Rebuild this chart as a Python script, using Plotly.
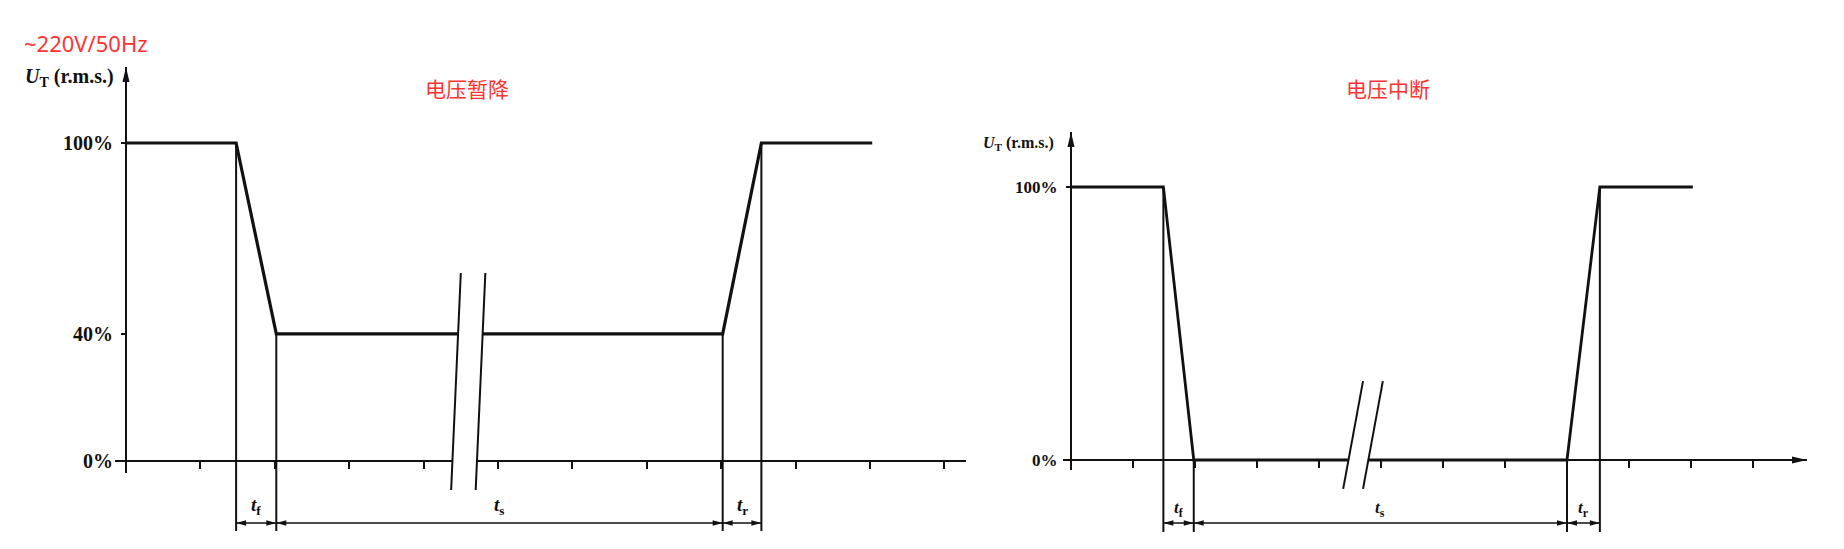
import plotly.graph_objects as go

W, H = 1844, 549          # page (screenshot) size
OFF = 8                   # default page body margin
FW, FH = W - OFF, H - OFF # figure size so that it ends at the page edge

# ---------------- data ----------------
sag_t = [0.0, 1.48, 2.02, 8.02, 8.54, 10.03]      # time (tick units)
sag_u = [100, 100, 40, 40, 100, 100]              # U_T in %
int_t = [0.0, 1.49, 1.98, 8.00, 8.53, 10.03]
int_u = [100, 100, 0, 0, 100, 100]
time_ticks = list(range(1, 12))
sag_u_ticks = [0, 40, 100]
sag_u_labels = ["0%", "40%", "100%"]
int_u_ticks = [0, 100]
int_u_labels = ["0%", "100%"]
dim_names = ["f", "s", "r"]
panel_titles = ["电压暂降", "电压中断"]
supply_text = "~220V/50Hz"

# ---------------- layout geometry (page pixels) ----------------
panels = [
    dict(t=sag_t, u=sag_u, yt=sag_u_ticks, yl=sag_u_labels, title=panel_titles[0],
         xa="x", ya="y", dom=(OFF, 1000), x0=126, xs=74.4, y0=461, ys=3.18,
         brk=dict(tb=4.37, ub=-9.1, tt=4.50, ut=59.1, gap=0.33),
         xaxis_px=(115, 966), arrow=False, yaxis_px=(473, 67),
         dim_px=523, ext_px=531, lab_px=506, lab_fs=19, tick_fs=20, standoff=4,
         title_px=(467, 88), ut_px=(23, 77), ut_fs=20, wave_w=3.2),
    dict(t=int_t, u=int_u, yt=int_u_ticks, yl=int_u_labels, title=panel_titles[1],
         xa="x2", ya="y2", dom=(1000, W), x0=1071, xs=62.0, y0=460, ys=2.73,
         brk=dict(tb=4.39, ub=-10.6, tt=4.71, ut=28.9, gap=0.32),
         xaxis_px=(1063, 1807), arrow=True, yaxis_px=(470, 132),
         dim_px=523, ext_px=532, lab_px=509, lab_fs=17, tick_fs=17, standoff=5,
         title_px=(1388, 88), ut_px=(981, 143), ut_fs=16, wave_w=2.8),
]

BLACK = "#111111"
RED = "#ff3333"
SERIF = "Liberation Serif"

fig = go.Figure()
shapes = []
annotations = []


def px2t(p, x):
    return (x - p["x0"]) / p["xs"]


def px2u(p, y):
    return (p["y0"] - y) / p["ys"]


def paper_x(x):
    return (x - OFF) / FW


def paper_y(y):
    return 1 - (y - OFF) / FH


def slash_x(brk, level, k):
    return brk["tb"] + k * brk["gap"] + (brk["tt"] - brk["tb"]) * (level - brk["ub"]) / (brk["ut"] - brk["ub"])


def arrowhead(xref, yref, x, y, direction, length, half):
    if direction == "up":
        path = f"M0,0 L{-half},{-length} L{half},{-length} Z"
    elif direction == "right":
        path = f"M0,0 L{-length},{half} L{-length},{-half} Z"
    else:
        path = f"M0,0 L{length},{half} L{length},{-half} Z"
    return dict(type="path", xref=xref, yref=yref, xsizemode="pixel", ysizemode="pixel",
                xanchor=x, yanchor=y, path=path, fillcolor=BLACK, line=dict(width=0),
                layer="above")


for i, p in enumerate(panels):
    xa, ya = p["xa"], p["ya"]
    brk = p["brk"]
    t, u = p["t"], p["u"]

    # ---- axes lines (with break) ----
    xl = px2t(p, p["xaxis_px"][0])
    xr = px2t(p, p["xaxis_px"][1])
    ax_x = [xl, slash_x(brk, 0, 0), None, slash_x(brk, 0, 1), xr]
    ax_y = [0, 0, None, 0, 0]
    fig.add_trace(go.Scatter(x=ax_x, y=ax_y, mode="lines", xaxis=xa, yaxis=ya,
                             line=dict(color=BLACK, width=2), hoverinfo="skip"))
    yb = px2u(p, p["yaxis_px"][0])
    ytop = px2u(p, p["yaxis_px"][1])
    fig.add_trace(go.Scatter(x=[0, 0], y=[yb, ytop], mode="lines", xaxis=xa, yaxis=ya,
                             line=dict(color=BLACK, width=2), hoverinfo="skip"))
    shapes.append(arrowhead(xa, ya, 0, ytop, "up", 15, 3.5))
    if p["arrow"]:
        shapes.append(arrowhead(xa, ya, xr, 0, "right", 15, 3.5))

    # ---- break slashes ----
    sx, sy = [], []
    for k in (0, 1):
        sx += [brk["tb"] + k * brk["gap"], brk["tt"] + k * brk["gap"], None]
        sy += [brk["ub"], brk["ut"], None]
    fig.add_trace(go.Scatter(x=sx, y=sy, mode="lines", xaxis=xa, yaxis=ya,
                             line=dict(color=BLACK, width=2), hoverinfo="skip"))

    # ---- extension lines ----
    ext_u = px2u(p, p["ext_px"])
    ex, ey = [], []
    for j in range(1, 5):
        ex += [t[j], t[j], None]
        ey += [u[j], ext_u, None]
    fig.add_trace(go.Scatter(x=ex, y=ey, mode="lines", xaxis=xa, yaxis=ya,
                             line=dict(color=BLACK, width=2), hoverinfo="skip"))

    # ---- waveform (with break in the low segment) ----
    wx, wy = [], []
    for j in range(len(t)):
        wx.append(t[j]); wy.append(u[j])
        if j + 1 < len(t) and t[j] < brk["tb"] < t[j + 1]:
            lvl = u[j]
            wx += [slash_x(brk, lvl, 0), None, slash_x(brk, lvl, 1)]
            wy += [lvl, None, lvl]
    fig.add_trace(go.Scatter(x=wx, y=wy, mode="lines", xaxis=xa, yaxis=ya,
                             line=dict(color=BLACK, width=p["wave_w"]), hoverinfo="skip"))

    # ---- dimension lines ----
    dim_u = px2u(p, p["dim_px"])
    lab_u = px2u(p, p["lab_px"])
    dx, dy = [], []
    for j, name in enumerate(dim_names):
        a, b = t[j + 1], t[j + 2]
        dx += [a, b, None]
        dy += [dim_u, dim_u, None]
        shapes.append(arrowhead(xa, ya, a, dim_u, "left", 10, 2.8))
        shapes.append(arrowhead(xa, ya, b, dim_u, "right", 10, 2.8))
        annotations.append(dict(xref=xa, yref=ya, x=(a + b) / 2, y=lab_u,
                                text=f"<b><i>t</i><sub>{name}</sub></b>", showarrow=False,
                                font=dict(family=SERIF, size=p["lab_fs"], color=BLACK),
                                xanchor="center", yanchor="middle"))
    fig.add_trace(go.Scatter(x=dx, y=dy, mode="lines", xaxis=xa, yaxis=ya,
                             line=dict(color=BLACK, width=1.5), hoverinfo="skip"))

    # ---- axis configuration ----
    xkey = "xaxis" if i == 0 else "xaxis2"
    ykey = "yaxis" if i == 0 else "yaxis2"
    fig.update_layout(**{
        xkey: dict(domain=[paper_x(p["dom"][0]), paper_x(p["dom"][1])],
                   range=[px2t(p, p["dom"][0]), px2t(p, p["dom"][1])],
                   anchor="free", position=paper_y(p["y0"]),
                   showline=False, showgrid=False, zeroline=False,
                   ticks="outside", ticklen=7, tickwidth=2, tickcolor=BLACK,
                   tickvals=time_ticks, showticklabels=False, fixedrange=True),
        ykey: dict(domain=[0, 1], range=[px2u(p, H), px2u(p, OFF)],
                   anchor="free", position=paper_x(p["x0"]),
                   showline=False, showgrid=False, zeroline=False,
                   ticks="outside", ticklen=5, tickwidth=2, tickcolor=BLACK,
                   tickvals=p["yt"], ticktext=p["yl"], ticklabelstandoff=p["standoff"],
                   tickfont=dict(family=SERIF, size=p["tick_fs"], color=BLACK, weight="bold"),
                   fixedrange=True),
    })

    # ---- texts ----
    annotations.append(dict(xref="paper", yref="paper", x=paper_x(p["title_px"][0]), y=paper_y(p["title_px"][1]),
                            text=p["title"], showarrow=False, xanchor="center", yanchor="middle",
                            font=dict(family="Noto Sans CJK SC", size=21, color=RED)))
    annotations.append(dict(xref="paper", yref="paper", x=paper_x(p["ut_px"][0]), y=paper_y(p["ut_px"][1]),
                            text="<b><i>U</i><sub>T</sub> (r.m.s.)</b>", showarrow=False,
                            xanchor="left", yanchor="middle",
                            font=dict(family=SERIF, size=p["ut_fs"], color=BLACK)))

annotations.append(dict(xref="paper", yref="paper", x=paper_x(22), y=paper_y(43), text=supply_text,
                        showarrow=False, xanchor="left", yanchor="middle",
                        font=dict(family="Noto Sans", size=22, color=RED)))

fig.update_layout(width=FW, height=FH, margin=dict(l=0, r=0, t=0, b=0),
                  paper_bgcolor="white", plot_bgcolor="white", showlegend=False,
                  shapes=shapes, annotations=annotations)

fig.write_html("out.html")
